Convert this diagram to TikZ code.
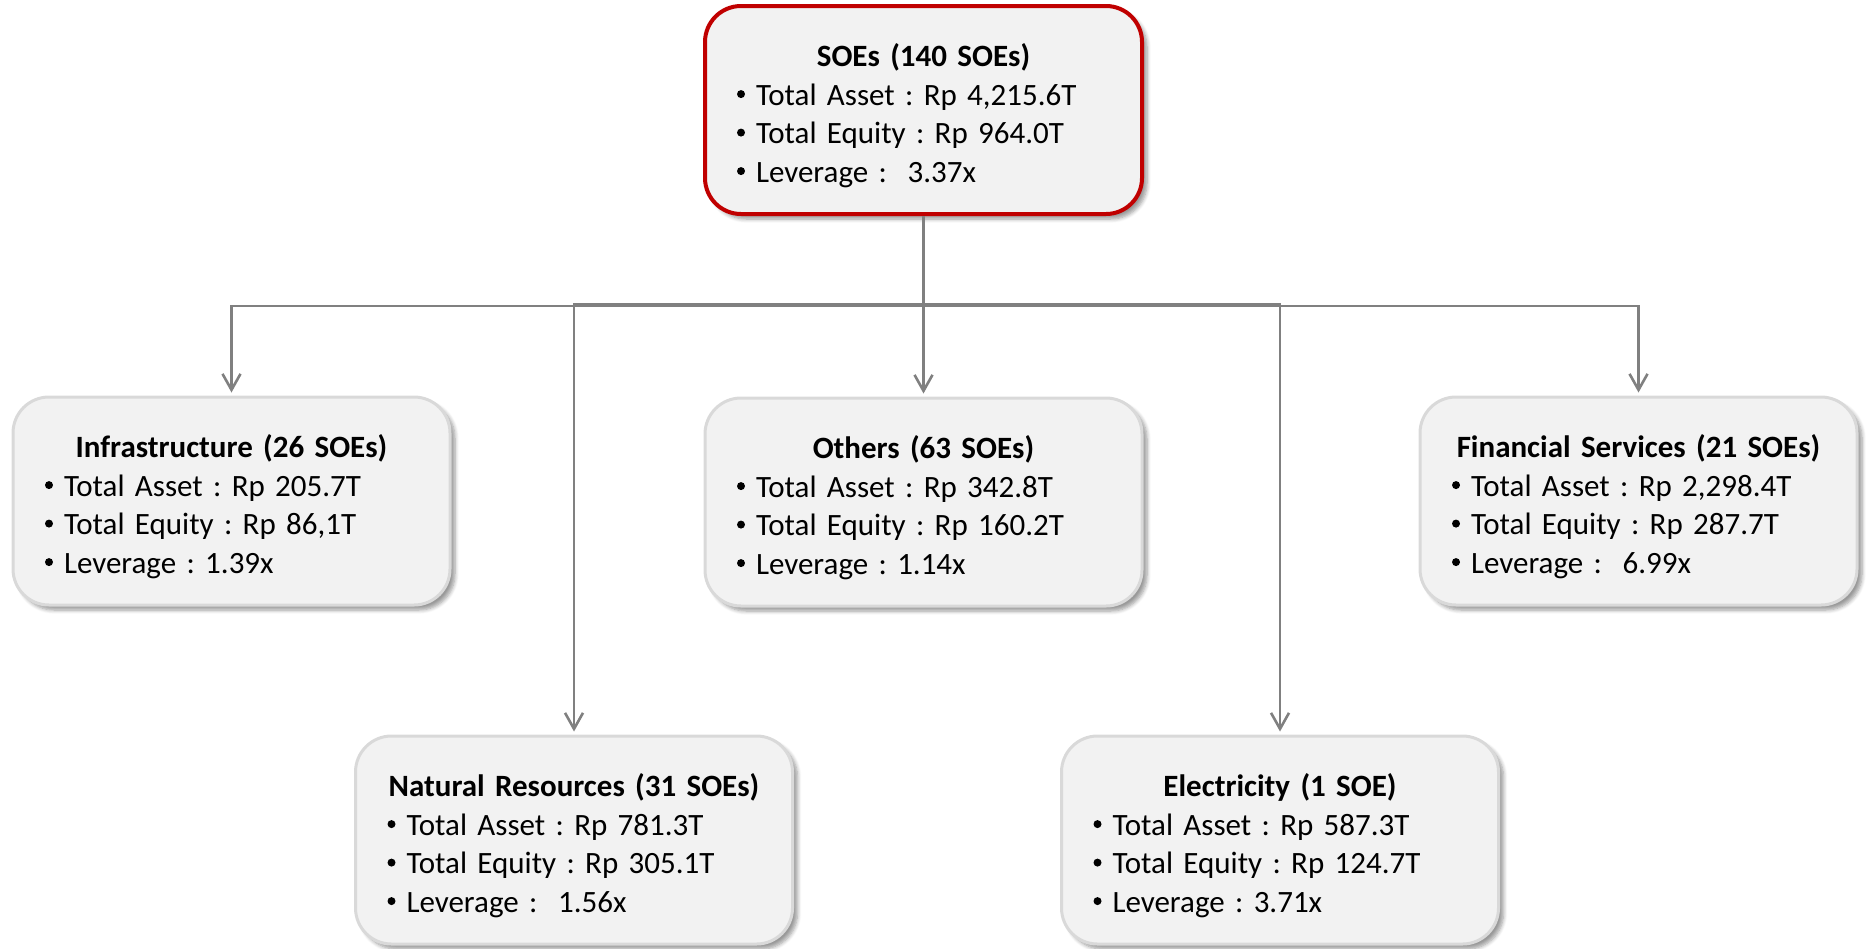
\documentclass[tikz,border=0pt]{standalone}
\usepackage{fontspec}
\setmainfont{Carlito}
\usepackage{xcolor}
\usetikzlibrary{arrows.meta,shadows.blur}

\definecolor{boxfill}{RGB}{242,242,242}
\definecolor{boxline}{RGB}{217,217,217}
\definecolor{rootline}{RGB}{192,0,0}
\definecolor{connline}{RGB}{128,128,128}

\frenchspacing
% small round bullet in front of each figure
\newcommand{\dotmark}{\makebox[9.5pt][l]{\raisebox{5.5pt}{\tikz[baseline=0pt]\fill (0,0) circle (2pt);}}}
% title line centred, bullet lines flush left
\newcommand{\sectortext}[4]{\makebox[\linewidth]{\rule{0pt}{17pt}\textbf{#1}}\\
  \dotmark#2\\
  \dotmark#3\\
  \dotmark#4}

\tikzset{
  sector/.style={draw=boxline, line width=1.5pt, fill=boxfill, rounded corners=18pt,
    minimum width=218.5pt, minimum height=104pt, text width=186.5pt, inner xsep=16pt,
    align=left, font=\fontsize{15.5}{19.25}\selectfont,
    blur shadow={shadow xshift=2.5pt, shadow yshift=-2.5pt, shadow opacity=40, shadow blur steps=6}},
  rootsector/.style={sector, draw=rootline, line width=2pt},
  conn/.style={draw=connline, line width=1.3pt},
  connarrow/.style={conn, -{Straight Barb[length=8pt,width=9pt]}, shorten >=1.5pt}
}

\begin{document}
\begin{tikzpicture}[x=0.5pt,y=0.5pt,yscale=-1,xscale=1]
\useasboundingbox (0,0) rectangle (1866,948);

%Shape: Rounded Rectangle [root]
\node[rootsector] (root) at (923.5,110) {\sectortext{SOEs (140 SOEs)}{Total Asset : Rp 4,215.6T}{Total Equity : Rp 964.0T}{Leverage :~ 3.37x}};
%Shape: Rounded Rectangle [infra]
\node[sector] (infra) at (231.5,501) {\sectortext{Infrastructure (26 SOEs)}{Total Asset : Rp 205.7T}{Total Equity : Rp 86,1T}{Leverage : 1.39x}};
%Shape: Rounded Rectangle [others]
\node[sector] (others) at (923.5,502) {\sectortext{Others (63 SOEs)}{Total Asset : Rp 342.8T}{Total Equity : Rp 160.2T}{Leverage : 1.14x}};
%Shape: Rounded Rectangle [finance]
\node[sector] (finance) at (1638.5,501) {\sectortext{Financial Services (21 SOEs)}{Total Asset : Rp 2,298.4T}{Total Equity : Rp 287.7T}{Leverage :~ 6.99x}};
%Shape: Rounded Rectangle [natural]
\node[sector] (natural) at (574,840) {\sectortext{Natural Resources (31 SOEs)}{Total Asset : Rp 781.3T}{Total Equity : Rp 305.1T}{Leverage :~ 1.56x}};
%Shape: Rounded Rectangle [electric]
\node[sector] (electric) at (1280,840) {\sectortext{Electricity (1 SOE)}{Total Asset : Rp 587.3T}{Total Equity : Rp 124.7T}{Leverage : 3.71x}};

%Straight Lines [trunk]
\coordinate (split) at (923.5,306);
\coordinate (innersplit) at (923.5,304);
\draw[conn] (root.south) -- (split);
%Straight Lines [branches]
\draw[connarrow] (split) -| (infra.north);
\draw[connarrow] (split) -| (finance.north);
\draw[connarrow] (split) -- (others.north);
\draw[connarrow] (innersplit) -| (natural.north);
\draw[connarrow] (innersplit) -| (electric.north);

\end{tikzpicture}
\end{document}
